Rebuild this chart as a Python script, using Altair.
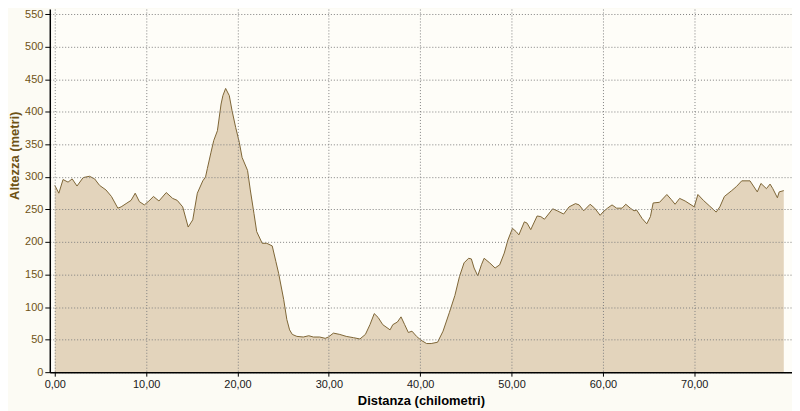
import altair as alt
import pandas as pd

km = [0.0, 0.44, 0.9, 1.45, 1.9, 2.43, 3.1, 3.8, 4.36, 4.9, 5.6, 6.2, 6.9, 7.26, 7.8,
      8.35, 8.8, 9.26, 9.8, 10.3, 10.8, 11.4, 12.2, 12.9, 13.4, 14.0, 14.6, 15.1, 15.6,
      16.2, 16.5, 16.7, 17.1, 17.4, 17.8, 18.2, 18.4, 18.7, 19.1, 19.4, 19.8, 20.2, 20.5,
      21.1, 21.4, 21.8, 22.1, 22.7, 23.2, 23.8, 24.2, 24.5, 25.05, 25.4, 25.7, 26.0, 26.5,
      27.2, 27.8, 28.3, 29.0, 29.6, 29.95, 30.5, 31.2, 31.9, 32.7, 33.4, 34.0, 34.5, 34.97,
      35.4, 35.9, 36.7, 37.0, 37.5, 37.9, 38.3, 38.7, 39.1, 39.6, 40.1, 40.7, 41.2, 41.9,
      42.5, 43.2, 43.8, 44.3, 44.8, 45.3, 45.6, 45.9, 46.3, 46.7, 47.0, 47.6, 48.2, 48.7,
      49.2, 49.6, 50.1, 50.5, 50.8, 51.4, 51.7, 52.1, 52.8, 53.2, 53.6, 54.5, 55.0, 55.7,
      56.3, 57.0, 57.4, 57.9, 58.6, 59.1, 59.7, 60.0, 60.5, 61.0, 61.5, 62.1, 62.5, 63.0,
      63.4, 63.7, 64.3, 64.8, 65.2, 65.5, 66.2, 67.0, 67.5, 67.9, 68.4, 69.0, 70.0, 70.4,
      71.0, 71.7, 72.4, 72.8, 73.3, 74.1, 74.6, 75.2, 76.1, 76.9, 77.3, 77.9, 78.3, 78.6,
      79.1, 79.3, 79.8]
elev = [287, 275, 296, 292, 297, 286, 299, 301, 297, 287, 280, 270, 252, 254, 259,
        264, 275, 262, 257, 263, 270, 263, 276, 267, 264, 254, 223, 234, 275,
        294, 300, 313, 338, 356, 371, 412, 425, 436, 425, 402, 376, 353, 330,
        310, 280, 244, 216, 198, 198, 194, 170, 152, 112, 81, 65, 58, 55,
        54, 56, 54, 54, 52, 54, 60, 58, 55, 53, 51, 58, 73, 90,
        84, 73, 65, 73, 77, 85, 73, 61, 63, 55, 49, 44, 44, 46,
        63, 92, 118, 147, 168, 175, 174, 160, 148, 165, 175, 168, 160, 165,
        183, 203, 221, 216, 211, 231, 229, 219, 240, 239, 235, 251, 248, 243,
        254, 259, 257, 248, 258, 252, 241, 246, 252, 257, 252, 252, 258, 252,
        248, 249, 236, 228, 239, 260, 261, 273, 265, 258, 267, 263, 254, 273,
        264, 255, 246, 254, 270, 279, 285, 294, 294, 277, 290, 282, 289, 282,
        268, 277, 279]

x_ticks = [0, 10, 20, 30, 40, 50, 60, 70]
y_ticks = [0, 50, 100, 150, 200, 250, 300, 350, 400, 450, 500, 550]

df = pd.DataFrame({"km": km, "elev": elev})

font = "Liberation Sans"

x_enc = alt.X(
    "km:Q",
    scale=alt.Scale(domain=[-0.55, 80.7], nice=False, zero=False),
    axis=alt.Axis(
        values=x_ticks,
        title="Distanza (chilometri)",
        labelExpr="replace(format(datum.value, '.2f'), '.', ',')",
        labelOverlap=False,
        grid=True,
        gridColor="#808080",
        gridDash=[1, 2],
        gridWidth=1,
        domainColor="#000000",
        domainWidth=1.5,
        tickColor="#000000",
        tickSize=4,
        labelPadding=2,
        labelColor="#202020",
        labelFont=font,
        labelFontSize=11,
        titleFont=font,
        titleFontSize=13,
        titleFontWeight="bold",
        titleColor="#000000",
        titleY=28,
        titleBaseline="middle",
        zindex=1,
    ),
)
y_enc = alt.Y(
    "elev:Q",
    scale=alt.Scale(domain=[0, 558], nice=False),
    axis=alt.Axis(
        values=y_ticks,
        title="Altezza (metri)",
        labelOverlap=False,
        grid=True,
        gridColor="#808080",
        gridDash=[1, 2],
        gridWidth=1,
        domainColor="#000000",
        domainWidth=1.5,
        tickColor="#000000",
        tickSize=5,
        labelPadding=2,
        labelColor="#6E5214",
        labelFont=font,
        labelFontSize=11,
        titleFont=font,
        titleFontSize=13,
        titleFontWeight="bold",
        titleColor="#6E5214",
        titleX=-35,
        titleY=147,
        titleAlign="center",
        titleBaseline="middle",
        titleAngle=270,
        zindex=1,
    ),
)

base = alt.Chart(df).encode(x=x_enc, y=y_enc)
area = base.mark_area(color="#E3D4BC", opacity=1)
line = base.mark_line(color="#7D6535", strokeWidth=1)

chart = (
    alt.layer(area, line)
    .properties(
        width=746,
        height=365,
        autosize=alt.AutoSizeParams(type="none"),
        padding={"left": 42, "top": 0, "right": 0, "bottom": 38},
        background="#FCFBF4",
    )
    .configure_view(stroke=None, fill="#FEFDF8")
)

chart.save("out.html", embed_options={"renderer": "svg", "actions": False})
